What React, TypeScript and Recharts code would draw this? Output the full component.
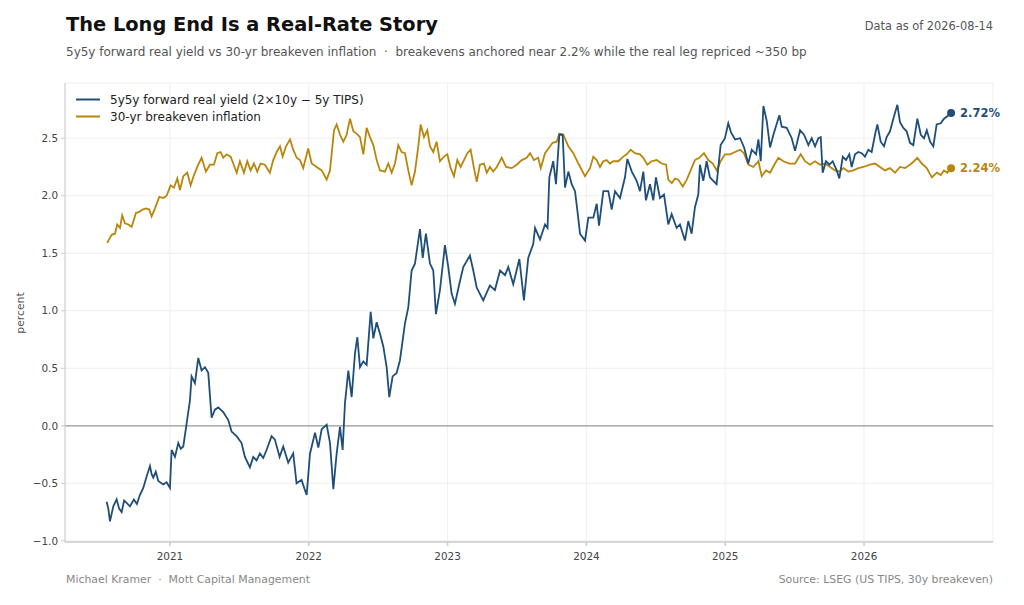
import { CartesianGrid, Line, LineChart, ReferenceDot, ReferenceLine, XAxis, YAxis } from 'recharts';

// decimal-year dates and percent values
const realDates = [
  2020.544, 2020.556, 2020.568, 2020.592, 2020.616, 2020.634, 2020.652, 2020.67, 2020.688, 2020.712,
  2020.74, 2020.762, 2020.784, 2020.808, 2020.832, 2020.856, 2020.868, 2020.88, 2020.898, 2020.916,
  2020.952, 2020.976, 2021.0, 2021.012, 2021.036, 2021.06, 2021.078, 2021.096, 2021.12, 2021.144,
  2021.156, 2021.18, 2021.204, 2021.228, 2021.252, 2021.276, 2021.3, 2021.324, 2021.348, 2021.384,
  2021.42, 2021.444, 2021.48, 2021.516, 2021.54, 2021.576, 2021.6, 2021.624, 2021.648, 2021.672,
  2021.696, 2021.732, 2021.756, 2021.79, 2021.816, 2021.852, 2021.888, 2021.912, 2021.948, 2021.97,
  2021.985, 2022.009, 2022.045, 2022.069, 2022.093, 2022.129, 2022.153, 2022.177, 2022.201, 2022.225,
  2022.244, 2022.261, 2022.285, 2022.309, 2022.333, 2022.35, 2022.369, 2022.393, 2022.417, 2022.446,
  2022.465, 2022.489, 2022.513, 2022.537, 2022.561, 2022.58, 2022.604, 2022.633, 2022.657, 2022.693,
  2022.717, 2022.741, 2022.765, 2022.801, 2022.821, 2022.844, 2022.873, 2022.897, 2022.916, 2022.945,
  2022.981, 2023.005, 2023.029, 2023.053, 2023.084, 2023.113, 2023.161, 2023.185, 2023.21, 2023.257,
  2023.305, 2023.341, 2023.378, 2023.414, 2023.437, 2023.473, 2023.517, 2023.55, 2023.581, 2023.617,
  2023.63, 2023.666, 2023.702, 2023.72, 2023.733, 2023.761, 2023.781, 2023.805, 2023.829, 2023.846,
  2023.87, 2023.894, 2023.918, 2023.935, 2023.954, 2023.99, 2024.014, 2024.05, 2024.074, 2024.091,
  2024.122, 2024.158, 2024.182, 2024.206, 2024.242, 2024.278, 2024.295, 2024.327, 2024.362, 2024.386,
  2024.41, 2024.429, 2024.458, 2024.482, 2024.501, 2024.53, 2024.559, 2024.59, 2024.614, 2024.65,
  2024.674, 2024.71, 2024.734, 2024.758, 2024.782, 2024.806, 2024.818, 2024.842, 2024.866, 2024.89,
  2024.914, 2024.938, 2024.967, 2024.998, 2025.022, 2025.042, 2025.071, 2025.107, 2025.136, 2025.166,
  2025.191, 2025.222, 2025.239, 2025.256, 2025.275, 2025.299, 2025.323, 2025.347, 2025.39, 2025.407,
  2025.443, 2025.479, 2025.503, 2025.539, 2025.568, 2025.599, 2025.623, 2025.647, 2025.671, 2025.688,
  2025.702, 2025.726, 2025.75, 2025.774, 2025.803, 2025.822, 2025.847, 2025.87, 2025.894, 2025.911,
  2025.935, 2025.959, 2025.983, 2026.007, 2026.031, 2026.055, 2026.079, 2026.096, 2026.12, 2026.144,
  2026.163, 2026.187, 2026.211, 2026.24, 2026.259, 2026.283, 2026.307, 2026.331, 2026.355, 2026.384,
  2026.409, 2026.432, 2026.452, 2026.476, 2026.499, 2026.523, 2026.553, 2026.576, 2026.6, 2026.627,
];
const realYield = [
  -0.66, -0.72, -0.83, -0.7, -0.64, -0.72, -0.75, -0.65, -0.67, -0.7,
  -0.64, -0.68, -0.6, -0.54, -0.44, -0.35, -0.42, -0.45, -0.4, -0.48,
  -0.51, -0.49, -0.54, -0.21, -0.27, -0.15, -0.2, -0.18, 0.02, 0.22,
  0.43, 0.37, 0.59, 0.48, 0.51, 0.46, 0.07, 0.14, 0.16, 0.12,
  0.05, -0.05, -0.09, -0.15, -0.27, -0.36, -0.27, -0.3, -0.24, -0.28,
  -0.21, -0.09, -0.12, -0.27, -0.18, -0.32, -0.24, -0.5, -0.47, -0.55,
  -0.6, -0.24, -0.06, -0.19, -0.03, 0.01, -0.15, -0.55, -0.24, -0.01,
  -0.21, 0.2, 0.48, 0.25, 0.63, 0.77, 0.51, 0.56, 0.53, 0.99,
  0.76, 0.9, 0.8, 0.69, 0.51, 0.25, 0.43, 0.46, 0.57, 0.89,
  1.03, 1.35, 1.41, 1.71, 1.46, 1.67, 1.41, 1.35, 0.97, 1.18,
  1.57, 1.38, 1.15, 1.06, 1.23, 1.38, 1.48, 1.35, 1.2, 1.09,
  1.22, 1.18, 1.35, 1.31, 1.38, 1.23, 1.45, 1.09, 1.46, 1.58,
  1.72, 1.62, 1.75, 1.72, 2.16, 2.3, 2.1, 2.53, 2.53, 2.07,
  2.21, 2.1, 2.04, 1.87, 1.67, 1.61, 1.81, 1.81, 1.93, 1.74,
  2.04, 2.04, 1.88, 2.04, 1.98, 2.16, 2.32, 2.21, 2.13, 2.04,
  2.21, 1.96, 2.1, 1.96, 2.16, 1.98, 2.01, 1.75, 1.84, 1.72,
  1.75, 1.61, 1.78, 1.67, 1.9, 2.01, 2.27, 2.13, 2.3, 2.16,
  2.13, 2.1, 2.44, 2.5, 2.63, 2.55, 2.49, 2.5, 2.42, 2.28,
  2.4, 2.36, 2.49, 2.3, 2.78, 2.65, 2.42, 2.53, 2.7, 2.6,
  2.59, 2.5, 2.39, 2.57, 2.53, 2.44, 2.5, 2.43, 2.5, 2.51,
  2.2, 2.3, 2.27, 2.3, 2.22, 2.15, 2.34, 2.31, 2.36, 2.25,
  2.36, 2.38, 2.37, 2.34, 2.4, 2.38, 2.53, 2.62, 2.47, 2.43,
  2.51, 2.56, 2.67, 2.79, 2.64, 2.59, 2.56, 2.46, 2.44, 2.67,
  2.53, 2.5, 2.57, 2.47, 2.43, 2.62, 2.63, 2.67, 2.69, 2.72,
];

const beDates = [
  2020.548, 2020.58, 2020.604, 2020.62, 2020.64, 2020.656, 2020.676, 2020.7, 2020.724, 2020.755,
  2020.779, 2020.803, 2020.827, 2020.851, 2020.868, 2020.892, 2020.923, 2020.952, 2020.976, 2021.005,
  2021.029, 2021.053, 2021.072, 2021.096, 2021.125, 2021.149, 2021.173, 2021.204, 2021.228, 2021.259,
  2021.288, 2021.317, 2021.341, 2021.365, 2021.384, 2021.408, 2021.437, 2021.456, 2021.481, 2021.504,
  2021.533, 2021.557, 2021.581, 2021.605, 2021.629, 2021.653, 2021.684, 2021.72, 2021.744, 2021.769,
  2021.793, 2021.812, 2021.836, 2021.865, 2021.888, 2021.913, 2021.937, 2021.96, 2021.996, 2022.021,
  2022.057, 2022.093, 2022.129, 2022.153, 2022.182, 2022.201, 2022.225, 2022.249, 2022.273, 2022.297,
  2022.321, 2022.345, 2022.369, 2022.393, 2022.417, 2022.441, 2022.465, 2022.489, 2022.513, 2022.549,
  2022.573, 2022.597, 2022.621, 2022.645, 2022.669, 2022.693, 2022.717, 2022.741, 2022.765, 2022.789,
  2022.806, 2022.83, 2022.854, 2022.873, 2022.897, 2022.921, 2022.945, 2022.974, 2022.998, 2023.022,
  2023.046, 2023.07, 2023.094, 2023.118, 2023.142, 2023.166, 2023.19, 2023.21, 2023.233, 2023.262,
  2023.282, 2023.305, 2023.329, 2023.354, 2023.39, 2023.421, 2023.462, 2023.498, 2023.534, 2023.57,
  2023.594, 2023.622, 2023.653, 2023.671, 2023.702, 2023.738, 2023.757, 2023.786, 2023.805, 2023.834,
  2023.87, 2023.906, 2023.942, 2023.99, 2024.026, 2024.05, 2024.074, 2024.098, 2024.122, 2024.146,
  2024.17, 2024.194, 2024.23, 2024.266, 2024.29, 2024.319, 2024.35, 2024.386, 2024.41, 2024.439,
  2024.47, 2024.506, 2024.543, 2024.574, 2024.59, 2024.615, 2024.638, 2024.662, 2024.694, 2024.723,
  2024.751, 2024.782, 2024.813, 2024.847, 2024.878, 2024.91, 2024.939, 2024.967, 2024.998, 2025.035,
  2025.071, 2025.107, 2025.135, 2025.166, 2025.202, 2025.239, 2025.263, 2025.294, 2025.323, 2025.359,
  2025.383, 2025.419, 2025.462, 2025.503, 2025.544, 2025.575, 2025.611, 2025.647, 2025.683, 2025.719,
  2025.755, 2025.791, 2025.822, 2025.851, 2025.887, 2025.923, 2025.959, 2025.995, 2026.043, 2026.079,
  2026.115, 2026.151, 2026.187, 2026.223, 2026.259, 2026.295, 2026.331, 2026.36, 2026.384, 2026.416,
  2026.452, 2026.488, 2026.524, 2026.553, 2026.576, 2026.6, 2026.627,
];
const breakeven = [
  1.59, 1.66, 1.67, 1.75, 1.72, 1.83, 1.76, 1.75, 1.73, 1.85,
  1.86, 1.88, 1.89, 1.88, 1.82, 1.89, 1.99, 1.98, 2.0, 2.09,
  2.07, 2.15, 2.05, 2.17, 2.2, 2.09, 2.18, 2.27, 2.33, 2.21,
  2.27, 2.27, 2.37, 2.38, 2.33, 2.36, 2.34, 2.28, 2.2, 2.3,
  2.2, 2.3, 2.22, 2.28, 2.21, 2.28, 2.27, 2.2, 2.31, 2.38,
  2.43, 2.34, 2.43, 2.49, 2.4, 2.33, 2.31, 2.24, 2.41, 2.28,
  2.25, 2.22, 2.14, 2.22, 2.57, 2.62, 2.53, 2.47, 2.53, 2.67,
  2.56, 2.54, 2.51, 2.36, 2.59, 2.51, 2.44, 2.31, 2.22, 2.21,
  2.28, 2.2, 2.28, 2.44, 2.38, 2.37, 2.22, 2.09, 2.21, 2.43,
  2.62, 2.51, 2.57, 2.43, 2.38, 2.47, 2.3, 2.34, 2.36, 2.24,
  2.17, 2.31, 2.25, 2.31, 2.37, 2.4, 2.24, 2.12, 2.27, 2.28,
  2.2, 2.25, 2.21, 2.25, 2.33, 2.25, 2.24, 2.27, 2.31, 2.33,
  2.37, 2.31, 2.33, 2.24, 2.37, 2.43, 2.46, 2.47, 2.54, 2.53,
  2.43, 2.37, 2.28, 2.17, 2.24, 2.34, 2.31, 2.25, 2.3, 2.31,
  2.28, 2.3, 2.3, 2.34, 2.36, 2.4, 2.37, 2.36, 2.33, 2.27,
  2.3, 2.31, 2.28, 2.27, 2.14, 2.11, 2.15, 2.14, 2.08, 2.14,
  2.22, 2.31, 2.33, 2.37, 2.31, 2.28, 2.22, 2.3, 2.36, 2.36,
  2.38, 2.4, 2.37, 2.27, 2.25, 2.3, 2.17, 2.22, 2.2, 2.28,
  2.33, 2.3, 2.28, 2.28, 2.36, 2.3, 2.27, 2.3, 2.27, 2.28,
  2.25, 2.22, 2.21, 2.24, 2.21, 2.22, 2.24, 2.25, 2.27, 2.28,
  2.25, 2.22, 2.24, 2.2, 2.25, 2.24, 2.27, 2.3, 2.33, 2.28,
  2.24, 2.16, 2.2, 2.18, 2.22, 2.2, 2.24,
];

const yearTicks = [2021, 2022, 2023, 2024, 2025, 2026];
const yTicks = [-1, -0.5, 0, 0.5, 1, 1.5, 2, 2.5];

const REAL = '#1f4e79';
const GOLD = '#b8860b';
const FONT = '"DejaVu Sans", Verdana, sans-serif';

const realData = realDates.map((t, i) => ({ t, v: realYield[i] }));
const beData = beDates.map((t, i) => ({ t, v: breakeven[i] }));
const lastReal = realData[realData.length - 1];
const lastBe = beData[beData.length - 1];

const fmtY = (v: number) => v.toFixed(1).replace('-', '\u2212');

export default function App() {
  return (
    <div style={{ position: 'absolute', left: 0, top: 0, width: 1024, height: 605, background: '#fff', fontFamily: FONT }}>
      <LineChart width={1024} height={605} margin={{ top: 83, right: 31, bottom: 33, left: 0 }}>
        <CartesianGrid stroke='#ebebeb' strokeWidth={0.8} />
        <XAxis
          dataKey='t'
          type='number'
          domain={[2020.244, 2026.929]}
          ticks={yearTicks}
          allowDataOverflow
          tickFormatter={(v) => String(v)}
          stroke='#cccccc'
          strokeWidth={1.5}
          tickSize={4}
          tickMargin={7}
          tick={{ fill: '#444', fontSize: 10.4, fontFamily: FONT }}
          height={30}
        />
        <YAxis
          type='number'
          domain={[-1.01, 2.98]}
          ticks={yTicks}
          allowDataOverflow
          tickFormatter={fmtY}
          stroke='#cccccc'
          tickSize={4}
          tickMargin={3}
          tick={{ fill: '#444', fontSize: 10.4, fontFamily: FONT }}
          width={65}
        />
        <ReferenceLine y={0} stroke='#9a9a9a' strokeWidth={1.3} />
        <Line
          data={beData}
          dataKey='v'
          type='linear'
          stroke={GOLD}
          strokeWidth={1.8}
          dot={false}
          isAnimationActive={false}
        />
        <Line
          data={realData}
          dataKey='v'
          type='linear'
          stroke={REAL}
          strokeWidth={1.8}
          dot={false}
          isAnimationActive={false}
        />
        <ReferenceDot
          x={lastReal.t}
          y={lastReal.v}
          r={4}
          fill={REAL}
          stroke='none'
          label={{ value: `${lastReal.v.toFixed(2)}%`, position: 'right', offset: 5, fill: REAL, fontSize: 11.5, fontWeight: 'bold', fontFamily: FONT }}
        />
        <ReferenceDot
          x={lastBe.t}
          y={lastBe.v}
          r={4}
          fill={GOLD}
          stroke='none'
          label={{ value: `${lastBe.v.toFixed(2)}%`, position: 'right', offset: 5, fill: GOLD, fontSize: 11.5, fontWeight: 'bold', fontFamily: FONT }}
        />
      </LineChart>
      <svg width={1024} height={605} style={{ position: 'absolute', left: 0, top: 0, pointerEvents: 'none' }} fontFamily={FONT}>
        <text x={66} y={31} fontSize={19.4} fontWeight='bold' fill='#111'>The Long End Is a Real-Rate Story</text>
        <text x={66} y={56} fontSize={12} fill='#555'>
          5y5y forward real yield vs 30-yr breakeven inflation {'\u00a0·\u00a0'} breakevens anchored near 2.2% while the real leg repriced ~350 bp
        </text>
        <text x={993} y={30} fontSize={11.4} fill='#555' textAnchor='end'>Data as of 2026-08-14</text>
        <line x1={76} x2={100} y1={99.5} y2={99.5} stroke={REAL} strokeWidth={2} />
        <text x={110} y={104} fontSize={12} fill='#222'>5y5y forward real yield (2×10y − 5y TIPS)</text>
        <line x1={76} x2={100} y1={116.5} y2={116.5} stroke={GOLD} strokeWidth={2} />
        <text x={110} y={121} fontSize={12} fill='#222'>30-yr breakeven inflation</text>
        <text x={24} y={313} fontSize={10.8} fill='#555' textAnchor='middle' transform='rotate(-90 24 313)'>percent</text>
        <text x={66} y={583} fontSize={10.9} fill='#888'>Michael Kramer {'\u00a0·\u00a0'} Mott Capital Management</text>
        <text x={993} y={583} fontSize={10.9} fill='#888' textAnchor='end'>Source: LSEG (US TIPS, 30y breakeven)</text>
      </svg>
    </div>
  );
}
